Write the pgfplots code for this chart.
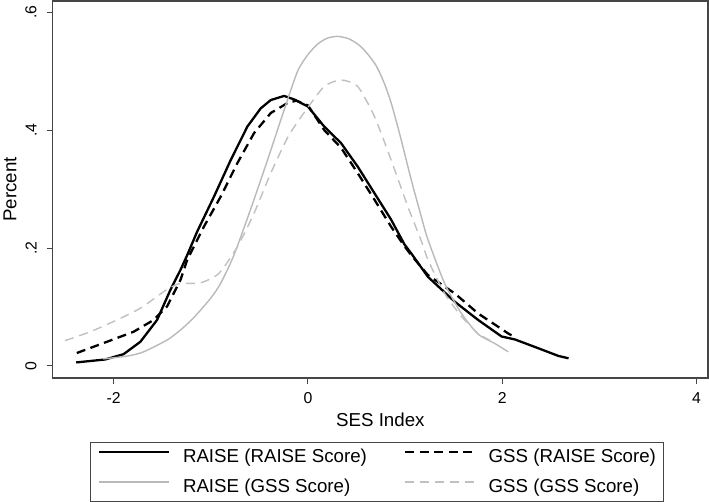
\documentclass[border=0pt]{standalone}
\usepackage{pgfplots}
\pgfplotsset{compat=1.18}
\usepackage{fontspec}
\setmainfont{Liberation Sans}
\definecolor{frame}{RGB}{70,70,70}
\definecolor{gsolid}{RGB}{185,185,185}
\definecolor{gdash}{RGB}{192,192,192}
\begin{document}
\begin{tikzpicture}
\useasboundingbox (0,0) rectangle (709bp,502bp);
\begin{axis}[
  at={(52.7bp,124bp)}, anchor=south west,
  scale only axis, width=655.3bp, height=377bp,
  xmin=-2.626, xmax=4.117, ymin=-0.0204, ymax=0.619,
  axis line style={draw=frame, line width=1.1bp},
  xtick={-2,0,2,4}, xticklabels={-2,0,2,4},
  ytick={0,0.2,0.4,0.6}, yticklabels={0,.2,.4,.6},
  tick align=outside, major tick length=6bp, tick pos=left,
  tick style={draw=frame, line width=1bp},
  /pgf/number format/assume math mode=true,
  tick label style={font=\fontsize{15.8bp}{19bp}\selectfont},
  xticklabel style={anchor=north, inner sep=0pt, yshift=-8.7bp},
  yticklabel style={xshift=-10bp, rotate=90, anchor=south, inner sep=0pt},
  xlabel={SES Index},
  ylabel={Percent},
  label style={font=\fontsize{18.7bp}{22bp}\selectfont},
  xlabel style={at={(axis description cs:0.5,-0.110)}, anchor=center},
  ylabel style={at={(axis description cs:-0.0652,0.5)}, anchor=center},
  legend columns=2,
  legend cell align=left,
  legend image code/.code={\draw[#1] (0bp,4.8bp) -- (70bp,4.8bp); \path (82.4bp,0bp);},
  legend style={at={(axis description cs:0.4951,-0.1700)}, anchor=north,
    draw=frame, line width=0.9bp,
    font=\fontsize{18.7bp}{22bp}\selectfont,
    inner xsep=7.6bp, inner ysep=6.7bp, row sep=15bp,
    nodes={inner sep=0pt},
    /tikz/every even column/.append style={column sep=37bp}},
]
% RAISE (RAISE Score)
\addplot[black, line width=2.3bp, line join=round] coordinates {
(-2.384,0.006) (-2.086,0.011) (-1.897,0.020) (-1.724,0.041) (-1.552,0.078)
(-1.415,0.129) (-1.311,0.163) (-1.242,0.188) (-1.139,0.228) (-0.967,0.287)
(-0.795,0.349) (-0.623,0.406) (-0.485,0.437) (-0.382,0.451) (-0.245,0.458)
(-0.141,0.452) (0.000,0.440) (0.168,0.406) (0.341,0.378) (0.513,0.338)
(0.685,0.293) (0.857,0.248) (0.994,0.206) (1.063,0.191) (1.236,0.151)
(1.511,0.109) (1.752,0.078) (1.993,0.050) (2.130,0.045) (2.372,0.030)
(2.578,0.017) (2.682,0.013)
};
\addlegendentry{RAISE (RAISE Score)}
% GSS (RAISE Score)
\addplot[black, line width=2.3bp, dash pattern=on 9bp off 5.5bp] coordinates {
(-2.378,0.022) (-2.068,0.041) (-1.794,0.058) (-1.587,0.078) (-1.449,0.101)
(-1.311,0.146) (-1.242,0.180) (-1.071,0.236) (-0.898,0.287) (-0.726,0.344)
(-0.554,0.395) (-0.382,0.429) (-0.210,0.446) (-0.120,0.450) (0.000,0.442)
(0.168,0.400) (0.341,0.370) (0.513,0.327) (0.685,0.282) (0.857,0.236)
(0.994,0.203) (1.063,0.188) (1.236,0.154) (1.511,0.123) (1.752,0.089)
(2.062,0.055) (2.096,0.052)
};
\addlegendentry{GSS (RAISE Score)}
% RAISE (GSS Score)
\addplot[gsolid, line width=1.4bp, line join=round, smooth, tension=0.4] coordinates {
(-2.106,0.012) (-1.850,0.017) (-1.690,0.024) (-1.449,0.044) (-1.311,0.061)
(-1.174,0.082) (-1.000,0.115) (-0.898,0.140) (-0.761,0.188) (-0.589,0.266)
(-0.416,0.349) (-0.245,0.434) (-0.106,0.500) (0.000,0.528) (0.100,0.546)
(0.200,0.556) (0.307,0.559) (0.420,0.555) (0.520,0.545) (0.600,0.532)
(0.700,0.510) (0.780,0.482) (0.857,0.446) (0.950,0.390) (1.063,0.316)
(1.167,0.253) (1.236,0.214) (1.407,0.140) (1.580,0.089) (1.752,0.054)
(1.924,0.038) (2.062,0.024)
};
\addlegendentry{RAISE (GSS Score)}
% GSS (GSS Score)
\addplot[gdash, line width=1.4bp, dash pattern=on 9bp off 6bp, smooth, tension=0.4] coordinates {
(-2.499,0.043) (-2.241,0.058) (-1.965,0.078) (-1.724,0.098) (-1.484,0.126)
(-1.380,0.136) (-1.311,0.140) (-1.105,0.141) (-0.916,0.157) (-0.726,0.202)
(-0.554,0.259) (-0.382,0.327) (-0.200,0.390) (-0.020,0.434) (0.168,0.474)
(0.341,0.485) (0.513,0.474) (0.685,0.423) (0.857,0.349) (1.029,0.270)
(1.167,0.212) (1.236,0.180) (1.407,0.123) (1.580,0.084) (1.752,0.055)
(1.890,0.042)
};
\addlegendentry{GSS (GSS Score)}
\end{axis}
\end{tikzpicture}
\end{document}
